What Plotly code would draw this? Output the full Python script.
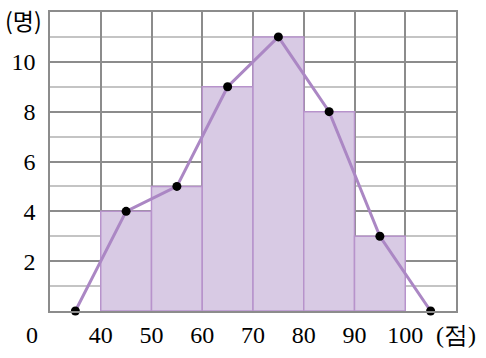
import plotly.graph_objects as go

bin_starts = [40, 50, 60, 70, 80, 90]
bin_width = 10
counts = [4, 5, 9, 11, 8, 3]
poly_x = [35, 45, 55, 65, 75, 85, 95, 105]
poly_y = [0, 4, 5, 9, 11, 8, 3, 0]
x_tickvals = [40, 50, 60, 70, 80, 90, 100, 110]
x_ticktext = ["40", "50", "60", "70", "80", "90", "100", "(점)"]
y_tickvals = [2, 4, 6, 8, 10]
y_ticktext = ["2", "4", "6", "8", "10"]

serif = "Liberation Serif"
kfont = "Noto Sans CJK KR"

fig = go.Figure()
fig.add_trace(go.Bar(
    x=[s + bin_width / 2 for s in bin_starts], y=counts, width=bin_width,
    marker=dict(color="#d8cae4", line=dict(color="#b793cb", width=1.5)),
    hoverinfo="skip",
))
fig.add_trace(go.Scatter(
    x=poly_x, y=poly_y, mode="lines+markers",
    line=dict(color="#ab87c4", width=3),
    marker=dict(color="black", size=9),
    cliponaxis=False,
))

fig.update_layout(
    width=486, height=358,
    margin=dict(l=50, r=28, t=10, b=42),
    plot_bgcolor="white", paper_bgcolor="white",
    showlegend=False,
    font=dict(family=serif, size=24, color="black"),
)
fig.update_xaxes(
    range=[30, 110], tickvals=x_tickvals, ticktext=x_ticktext,
    showgrid=True, gridcolor="#8c8c8c", gridwidth=1.5,
    showline=True, linecolor="#8c8c8c", linewidth=1.5, mirror=True,
    ticks="", zeroline=False, ticklabelstandoff=1,
    tickfont=dict(family=serif, size=24, color="black", weight=500),
)
fig.update_yaxes(
    range=[0, 12], tickvals=y_tickvals, ticktext=y_ticktext,
    showgrid=True, gridcolor="#8c8c8c", gridwidth=1.5,
    minor=dict(dtick=1, showgrid=True, gridcolor="#c4c4c4", gridwidth=1.5),
    showline=True, linecolor="#8c8c8c", linewidth=1.5, mirror=True,
    ticks="", zeroline=False, ticklabelstandoff=8,
    tickfont=dict(family=serif, size=24, color="black", weight=500),
)
fig.add_annotation(x=0, xref="paper", xshift=-18, xanchor="center",
                   y=0, yref="paper", yshift=-24, yanchor="middle",
                   text="0", showarrow=False, font=dict(family=serif, size=24))
fig.add_annotation(x=0, xref="paper", xshift=-27, xanchor="center",
                   y=1, yref="paper", yshift=-8, yanchor="middle",
                   text="(명)", showarrow=False, font=dict(family=kfont, size=23))
fig.write_html("out.html")
